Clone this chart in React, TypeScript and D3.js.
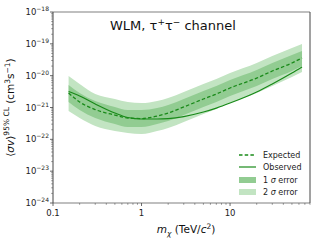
import React from 'react';
import * as d3 from 'd3';

const mass = [0.15, 0.2, 0.3, 0.5, 0.7, 1, 1.5, 2, 3, 5, 7, 10, 20, 30, 50, 65];
const expected = [2.85e-21, 1.49e-21, 8.6e-22, 5.8e-22, 4.68e-22, 4.5e-22, 5.4e-22, 6.7e-22, 1.04e-21, 1.85e-21, 2.65e-21, 4.1e-21, 8.4e-21, 1.4e-20, 2.5e-20, 3.6e-20];
const observed = [3.18e-21, 2.3e-21, 1.29e-21, 6.7e-22, 4.85e-22, 4.35e-22, 4.35e-22, 4.5e-22, 5.2e-22, 7.2e-22, 9.6e-22, 1.38e-21, 3.07e-21, 5.5e-21, 1.21e-20, 1.87e-20];
const sigma2Upper = [9.75e-21, 5.47e-21, 2.65e-21, 1.85e-21, 1.49e-21, 1.38e-21, 1.6e-21, 1.99e-21, 3.07e-21, 5.47e-21, 7.85e-21, 1.21e-20, 2.5e-20, 4.15e-20, 7.4e-20, 9.9e-20];
const sigma1Upper = [5.09e-21, 2.85e-21, 1.6e-21, 1.04e-21, 8.34e-22, 8.34e-22, 9.6e-22, 1.2e-21, 1.85e-21, 3.3e-21, 4.73e-21, 7.3e-21, 1.51e-20, 2.5e-20, 4.46e-20, 5.96e-20];
const sigma1Lower = [1.49e-21, 8.34e-22, 4.68e-22, 3.03e-22, 2.44e-22, 2.44e-22, 3.03e-22, 3.77e-22, 5.8e-22, 1.04e-21, 1.49e-21, 2.3e-21, 4.73e-21, 7.85e-21, 1.4e-20, 2.01e-20];
const sigma2Lower = [7.76e-22, 4.68e-22, 2.62e-22, 1.82e-22, 1.58e-22, 1.47e-22, 1.82e-22, 2.27e-22, 3.5e-22, 6.24e-22, 8.97e-22, 1.38e-21, 2.85e-21, 4.73e-21, 9.1e-21, 1.3e-20];

const yExponents = [-18, -19, -20, -21, -22, -23, -24];
const xTickValues = [0.1, 1, 10];
const xTickLabels = ['0.1', '1', '10'];
const legendLabels = ['Expected', 'Observed', '1 σ error', '2 σ error'];

const FONT = 'DejaVu Sans, sans-serif';
const BAND2 = 'rgb(194,228,194)';
const BAND1 = 'rgb(146,204,146)';
const LINE = '#198a19';

export default function App() {
  const L = 53, R = 310, T = 12, B = 203;
  const x = d3.scaleLog().domain([0.1, 80]).range([L, R]);
  const y = d3.scaleLog().domain([1e-24, 1e-18]).range([B, T]);

  const idx = mass.map((_, i) => i);
  const band = (lo: number[], hi: number[]) =>
    d3.area<number>().x(i => x(mass[i])).y0(i => y(lo[i])).y1(i => y(hi[i])).curve(d3.curveMonotoneX)(idx) || '';
  const line = (v: number[]) =>
    d3.line<number>().x(i => x(mass[i])).y(i => y(v[i])).curve(d3.curveMonotoneX)(idx) || '';

  const xMinor: number[] = [];
  for (let d = 0.1; d < 100; d *= 10) for (let k = 2; k <= 9; k++) { const v = d * k; if (v <= 80) xMinor.push(v); }
  const yMinor: number[] = [];
  for (let e = -24; e < -18; e++) for (let k = 2; k <= 9; k++) yMinor.push(k * Math.pow(10, e));

  const legX = 239, legTextX = 263;
  const legY = [155, 167, 180, 192];

  return (
    <svg width={320} height={240} style={{ position: 'fixed', left: 0, top: 0, background: '#fff' }} fontFamily={FONT}>
      <rect x={0} y={0} width={320} height={240} fill="#fff" />
      <path d={band(sigma2Lower, sigma2Upper)} fill={BAND2} />
      <path d={band(sigma1Lower, sigma1Upper)} fill={BAND1} />
      <path d={line(expected)} fill="none" stroke={LINE} strokeWidth={1.3} strokeDasharray="3.5,2.2" />
      <path d={line(observed)} fill="none" stroke={LINE} strokeWidth={1.2} />

      {/* frame */}
      <line x1={L} x2={R} y1={T} y2={T} stroke="#aaa" strokeWidth={1.5} />
      <line x1={L} x2={R} y1={B} y2={B} stroke="#aaa" strokeWidth={1.5} />
      <line x1={L} x2={L} y1={T} y2={B} stroke="#444" strokeWidth={1} />
      <line x1={R} x2={R} y1={T} y2={B} stroke="#444" strokeWidth={1} />

      {/* y ticks */}
      {yExponents.map(e => (
        <g key={e}>
          <line x1={L - 3} x2={L} y1={y(Math.pow(10, e))} y2={y(Math.pow(10, e))} stroke="#444" strokeWidth={0.8} />
          <text x={L - 4} y={y(Math.pow(10, e)) + 3} textAnchor="end" fontSize={8.5} fill="#222">
            <tspan>10</tspan>
            <tspan dy={-4} fontSize={6}>{'\u2212' + Math.abs(e)}</tspan>
          </text>
        </g>
      ))}
      {yMinor.map((v, i) => (
        <line key={i} x1={L - 1.8} x2={L} y1={y(v)} y2={y(v)} stroke="#555" strokeWidth={0.6} />
      ))}

      {/* x ticks */}
      {xTickValues.map((v, i) => (
        <g key={v}>
          <line x1={x(v)} x2={x(v)} y1={B} y2={B + 3} stroke="#444" strokeWidth={0.8} />
          <text x={x(v)} y={B + 13} textAnchor="middle" fontSize={8.5} fill="#222">{xTickLabels[i]}</text>
        </g>
      ))}
      {xMinor.map((v, i) => (
        <line key={i} x1={x(v)} x2={x(v)} y1={B} y2={B + 1.8} stroke="#555" strokeWidth={0.6} />
      ))}

      {/* title */}
      <text x={110} y={30} textAnchor="start" fontSize={13} fill="#111">
        <tspan>WLM, τ</tspan>
        <tspan dy={-5} fontSize={9}>+</tspan>
        <tspan dy={5}>τ</tspan>
        <tspan dy={-5} fontSize={9}>{'\u2212'}</tspan>
        <tspan dy={5}>{'\u00a0channel'}</tspan>
      </text>

      {/* x axis title */}
      <text x={186} y={233} textAnchor="middle" fontSize={10.5} fill="#111">
        <tspan fontStyle="italic">m</tspan>
        <tspan dy={3} fontSize={7.5} fontStyle="italic">χ</tspan>
        <tspan dy={-3}> (TeV/</tspan>
        <tspan fontStyle="italic">c</tspan>
        <tspan dy={-4} fontSize={7.5}>2</tspan>
        <tspan dy={4}>)</tspan>
      </text>

      {/* y axis title */}
      <text transform={`translate(14,${(T + B) / 2}) rotate(-90)`} textAnchor="middle" fontSize={10.5} fill="#111">
        <tspan>⟨</tspan>
        <tspan fontStyle="italic">σv</tspan>
        <tspan>⟩</tspan>
        <tspan dy={-5} fontSize={7.5}>95% CL</tspan>
        <tspan dy={5}> (cm</tspan>
        <tspan dy={-4} fontSize={7.5}>3</tspan>
        <tspan dy={4}>s</tspan>
        <tspan dy={-4} fontSize={7.5}>{'\u2212'}1</tspan>
        <tspan dy={4}>)</tspan>
      </text>

      {/* legend */}
      <line x1={legX} x2={legX + 17} y1={legY[0]} y2={legY[0]} stroke={LINE} strokeWidth={1.3} strokeDasharray="3.5,2.2" />
      <line x1={legX} x2={legX + 17} y1={legY[1]} y2={legY[1]} stroke={LINE} strokeWidth={1.2} />
      <rect x={legX} y={legY[2] - 3} width={17} height={6} fill={BAND1} />
      <rect x={legX} y={legY[3] - 3} width={17} height={6} fill={BAND2} />
      {legendLabels.map((t, i) => (
        <text key={t} x={legTextX} y={legY[i] + 3} fontSize={8} fill="#222">
          {t.startsWith('1') || t.startsWith('2') ? (
            <>
              <tspan>{t[0] + ' '}</tspan>
              <tspan fontStyle="italic">σ</tspan>
              <tspan>{' error'}</tspan>
            </>
          ) : t}
        </text>
      ))}
    </svg>
  );
}
